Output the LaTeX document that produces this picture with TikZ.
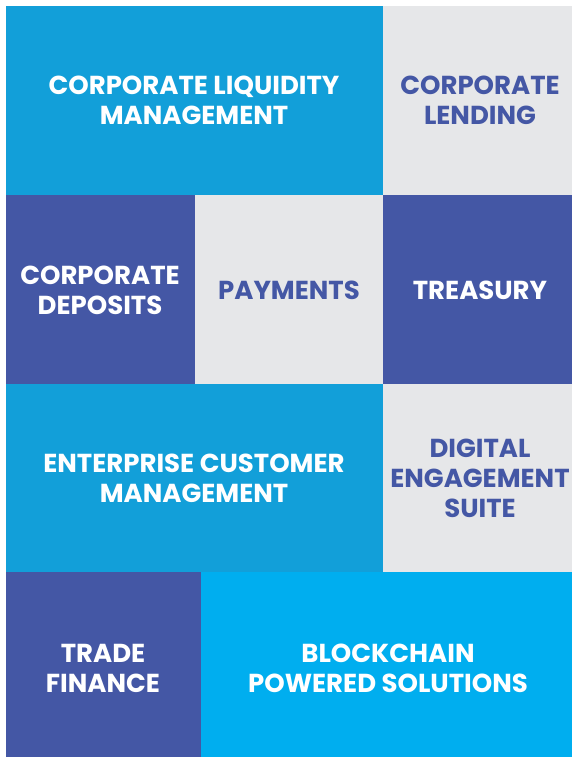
\documentclass[tikz,border=0pt]{standalone}
\usepackage{fontspec}
\setmainfont{Poppins}
\definecolor{tileBlue}{RGB}{18,159,217}
\definecolor{tileNavy}{RGB}{68,87,165}
\definecolor{tileGrey}{RGB}{230,231,233}
\definecolor{tileCyan}{RGB}{0,174,239}
\tikzset{
  tiletext/.style={align=center, font=\fontsize{19.5}{22.5}\selectfont\bfseries, text=white},
  greytext/.style={tiletext, text=tileNavy}
}
\begin{document}
\begin{tikzpicture}[x=0.75pt,y=0.75pt,yscale=-1,xscale=1]
\useasboundingbox (0,0) rectangle (572,757);
\fill[white] (0,0) rectangle (572,757);

%Shape: Rectangle [row 1]
\fill[tileBlue] (6,6) rectangle (383,195);
\fill[tileGrey] (383,6) rectangle (572,195);

%Shape: Rectangle [row 2]
\fill[tileNavy] (6,195) rectangle (195,384);
\fill[tileGrey] (195,195) rectangle (383,384);
\fill[tileNavy] (383,195) rectangle (572,384);

%Shape: Rectangle [row 3]
\fill[tileBlue] (6,384) rectangle (383,572);
\fill[tileGrey] (383,384) rectangle (572,572);

%Shape: Rectangle [row 4]
\fill[tileNavy] (6,572) rectangle (201,757);
\fill[tileCyan] (201,572) rectangle (572,757);

% Text Node
\node[tiletext] (liquidity) at (194,100) {CORPORATE LIQUIDITY\\MANAGEMENT};
% Text Node
\node[greytext] (lending) at (480,100) {CORPORATE\\LENDING};
% Text Node
\node[tiletext] (deposits) at (100,290) {CORPORATE\\DEPOSITS};
% Text Node
\node[greytext] (payments) at (289,290) {PAYMENTS};
% Text Node
\node[tiletext] (treasury) at (480,290) {TREASURY};
% Text Node
\node[tiletext] (customer) at (194,478) {ENTERPRISE CUSTOMER\\MANAGEMENT};
% Text Node
\node[greytext] (digital) at (480,478) {DIGITAL\\ENGAGEMENT\\SUITE};
% Text Node
\node[tiletext] (trade) at (103,668) {TRADE\\FINANCE};
% Text Node
\node[tiletext] (blockchain) at (388,668) {BLOCKCHAIN\\POWERED SOLUTIONS};

\end{tikzpicture}
\end{document}
